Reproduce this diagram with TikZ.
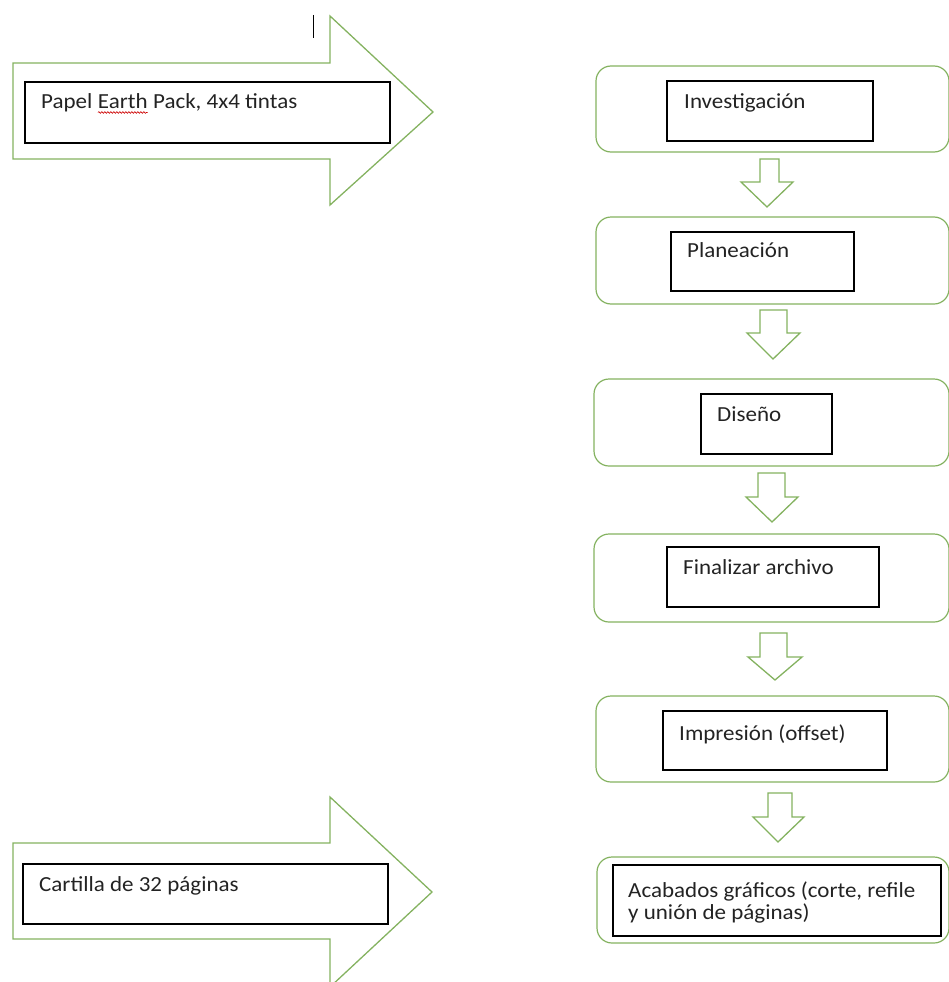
\documentclass[tikz,border=0pt]{standalone}
\usepackage{fontspec}
\setmainfont[FakeStretch=1.07]{Carlito}
\usetikzlibrary{decorations.pathmorphing}
\definecolor{shapegreen}{RGB}{132,178,96}
\definecolor{txtgray}{RGB}{35,35,35}
\tikzset{
  green line/.style={draw=shapegreen, line width=1.3pt, line join=miter},
  stepouter/.style={draw=shapegreen, line width=1.2pt, rounded corners=15pt},
  stepinner/.style={draw=black, line width=1.1pt},
  lbl/.style={anchor=base west, inner sep=0pt, font=\fontsize{21.5}{22.5}\selectfont, text=txtgray},
  spellmark/.style={draw=red!80!black, line width=0.6pt, decorate, decoration={snake, amplitude=0.9pt, segment length=3pt}},
}
\newcommand\spellword[1]{\tikz[baseline=(sw.base)]{\node[inner sep=0pt, outer sep=0pt] (sw) {#1}; \draw[spellmark] ([shift={(0pt,-4.5pt)}]sw.base west) -- ([shift={(0pt,-4.5pt)}]sw.base east);}}
\begin{document}
\begin{tikzpicture}[x=1pt,y=-1pt]
\useasboundingbox (0,0) rectangle (949,982);
% big right arrows
\draw[green line] (13,63) -- (330,63) -- (330,16) -- (433,112) -- (330,205) -- (330,159) -- (13,159) -- cycle;
\draw[green line] (13,843) -- (330,843) -- (330,797) -- (432,892) -- (330,987) -- (330,939) -- (13,939) -- cycle;
% text cursor
\draw[black, line width=1pt] (313,15) -- (313,38);
% input boxes
\draw[stepinner] (25,82) rectangle (390,143);
\node[lbl] (in1) at (41,108) {Papel \spellword{Earth} Pack, 4x4 tintas};
\draw[stepinner] (23,864) rectangle (388,924);
\node[lbl] (out1) at (39,891) {Cartilla de 32 páginas};
% step boxes
\draw[stepouter] (596,66) rectangle (949,152);
\draw[stepinner] (667,81) rectangle (873,141);
\node[lbl] (s1) at (684,108) {Investigación};
\draw[stepouter] (596,217) rectangle (949,304);
\draw[stepinner] (671,232) rectangle (854,291);
\node[lbl] (s2) at (687,257) {Planeación};
\draw[stepouter] (594,379) rectangle (949,466);
\draw[stepinner] (701,394) rectangle (832,454);
\node[lbl] (s3) at (717,421) {Diseño};
\draw[stepouter] (594,534) rectangle (949,622);
\draw[stepinner] (667,547) rectangle (879,607);
\node[lbl] (s4) at (683,574) {Finalizar archivo};
\draw[stepouter] (596,696) rectangle (949,782);
\draw[stepinner] (663,711) rectangle (887,770);
\node[lbl] (s5) at (679,740) {Impresión (offset)};
\draw[stepouter] (597,857) rectangle (949,943);
\draw[stepinner] (613,865) rectangle (941,936);
\node[lbl] (s6) at (628,897) {Acabados gráficos (corte, refile};
\node[lbl] (s6b) at (628,919) {y unión de páginas)};
% down block arrows
\draw[green line] (760,159) -- (779,159) -- (779,182) -- (793,182) -- (767,207) -- (741,182) -- (760,182) -- cycle;
\draw[green line] (760,310) -- (787,310) -- (787,333) -- (800,333) -- (773,359) -- (747,333) -- (760,333) -- cycle;
\draw[green line] (758,473) -- (785,473) -- (785,497) -- (798,497) -- (772,522) -- (746,497) -- (758,497) -- cycle;
\draw[green line] (760,633) -- (787,633) -- (787,657) -- (802,657) -- (775,680) -- (748,657) -- (760,657) -- cycle;
\draw[green line] (768,793) -- (792,793) -- (792,817) -- (804,817) -- (778,842) -- (753,817) -- (768,817) -- cycle;
\end{tikzpicture}
\end{document}
